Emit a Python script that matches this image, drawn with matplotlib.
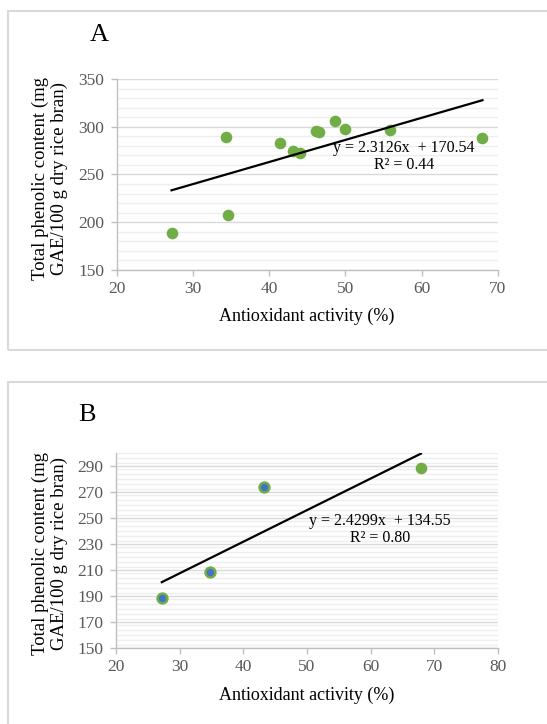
import matplotlib
matplotlib.use("Agg")
import matplotlib.pyplot as plt
from matplotlib.patches import Rectangle
from matplotlib.ticker import MultipleLocator
import numpy as np

# Panel A data (antioxidant activity %, total phenolic content)
a_x = [27.2, 34.4, 34.6, 41.4, 43.2, 44.1, 46.1, 46.5, 48.7, 50.0, 55.9, 68.0]
a_y = [188.5, 289.5, 207.5, 282.5, 274.5, 273.0, 295.5, 295.0, 306.5, 298.0, 296.5, 288.5]
a_slope, a_icpt = 2.3126, 170.54
a_eq = "y = 2.3126x  + 170.54\nR² = 0.44"

# Panel B data
b_x = [27.2, 34.7, 43.2, 67.9]
b_y = [188.8, 208.5, 273.6, 288.8]
b_blue = [True, True, True, False]
b_slope, b_icpt = 2.4299, 134.55
b_eq = "y = 2.4299x  + 134.55\nR² = 0.80"

ylabel = "Total phenolic content (mg\nGAE/100 g dry rice bran)"
xlabel = "Antioxidant activity (%)"

plt.rcParams['font.family'] = ['Liberation Serif', 'DejaVu Serif']

GREEN = '#70ad47'
BLUE = '#4472c4'
TICK_COL = '#595959'

fig = plt.figure(figsize=(5.47, 7.24), dpi=100)

# light gray frames round each panel
fig.patches.append(Rectangle((0.0146, 0.5166), 1.0, 0.4682, transform=fig.transFigure,
                             fill=False, edgecolor='#d9d9d9', lw=1.5))
fig.patches.append(Rectangle((0.0146, -0.1), 1.0, 0.5724, transform=fig.transFigure,
                             fill=False, edgecolor='#d9d9d9', lw=1.5))


def style_axes(ax, xlim, ylim, xmaj, ymaj, ymin):
    ax.set_xlim(*xlim)
    ax.set_ylim(*ylim)
    ax.xaxis.set_major_locator(MultipleLocator(xmaj))
    ax.yaxis.set_major_locator(MultipleLocator(ymaj))
    ax.yaxis.set_minor_locator(MultipleLocator(ymin))
    ax.grid(axis='y', which='major', color='#d9d9d9', lw=1.0)
    ax.grid(axis='y', which='minor', color='#eeeeee', lw=1.0)
    ax.set_axisbelow(True)
    for s in ['top', 'right']:
        ax.spines[s].set_visible(False)
    for s in ['left', 'bottom']:
        ax.spines[s].set_color('#bfbfbf')
        ax.spines[s].set_linewidth(1.0)
    ax.tick_params(axis='both', which='major', colors='#bfbfbf', labelcolor=TICK_COL,
                   labelsize=12.5, length=4, width=1.0)
    ax.tick_params(axis='y', which='minor', length=0)
    ax.tick_params(axis='y', pad=5)
    ax.tick_params(axis='x', pad=4)


# Panel A
axA = fig.add_axes([0.2133, 0.6271, 0.6966, 0.2638])
style_axes(axA, (20, 70), (150, 350), 10, 50, 10)
axA.scatter(a_x, a_y, s=70, color=GREEN, zorder=3, linewidths=0)
xl = np.array([min(a_x), max(a_x)])
axA.plot(xl, a_slope * xl + a_icpt, color='black', lw=1.6, zorder=4)
axA.text(0.754, 0.594, a_eq, transform=axA.transAxes, ha='center', va='center',
         fontsize=11.5, linespacing=1.1, zorder=5)

fig.text(0.181, 0.952, "A", fontsize=19, ha='center', va='center')
fig.text(0.091, 0.754, ylabel, rotation=90, ha='center', va='center', fontsize=13.5,
         linespacing=1.15)
fig.text(0.561, 0.5635, xlabel, ha='center', va='center', fontsize=13)

# Panel B
axB = fig.add_axes([0.212, 0.105, 0.6984, 0.2693])
style_axes(axB, (20, 80), (150, 300), 10, 20, 4)
axB.set_yticks(np.arange(150, 300, 20))
for x, y, blue in zip(b_x, b_y, b_blue):
    if blue:
        axB.scatter([x], [y], s=50, color=BLUE, edgecolors=GREEN, linewidths=1.8, zorder=3)
    else:
        axB.scatter([x], [y], s=70, color=GREEN, linewidths=0, zorder=3)
xl = np.array([min(b_x), max(b_x)])
axB.plot(xl, b_slope * xl + b_icpt, color='black', lw=1.6, zorder=4)
axB.text(0.691, 0.608, b_eq, transform=axB.transAxes, ha='center', va='center',
         fontsize=11.5, linespacing=1.1, zorder=5)

fig.text(0.159, 0.427, "B", fontsize=19, ha='center', va='center')
fig.text(0.091, 0.235, ylabel, rotation=90, ha='center', va='center', fontsize=13.5,
         linespacing=1.15)
fig.text(0.561, 0.040, xlabel, ha='center', va='center', fontsize=13)

fig.savefig("out.png", dpi=100, facecolor='white')
